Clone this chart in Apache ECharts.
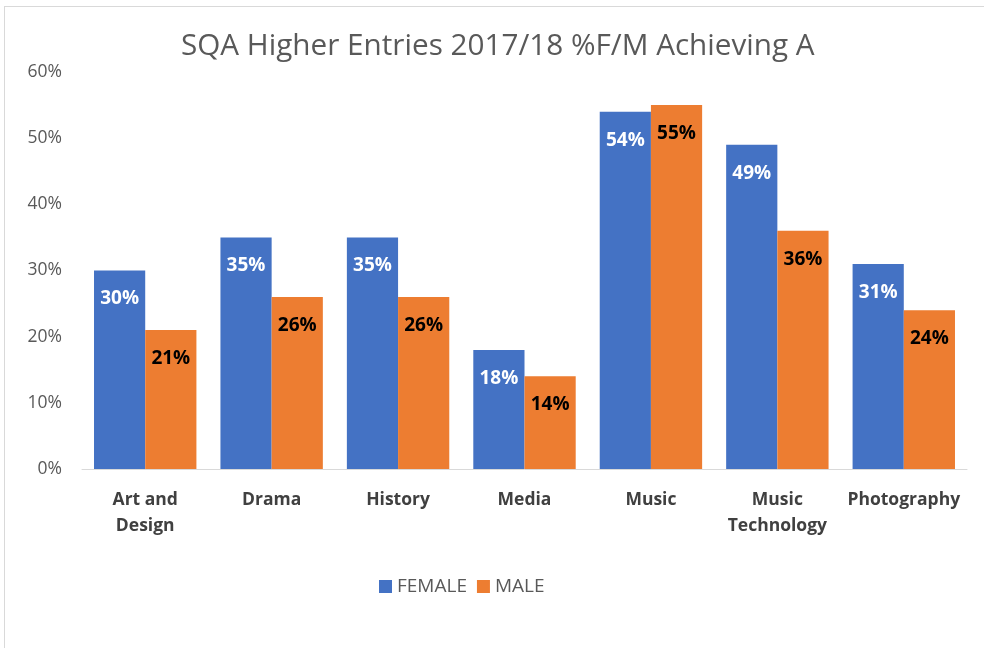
<!DOCTYPE html>
<html>
<head>
<meta charset="utf-8">
<script src="https://cdn.jsdelivr.net/npm/echarts@6/dist/echarts.min.js"></script>
<style>
  html, body { margin: 0; padding: 0; background: #fff; }
  #frame { position: absolute; left: 4px; top: 6px; width: 1000px; height: 700px; border: 1px solid #d9d9d9; box-sizing: border-box; }
  #chart { position: absolute; left: 0; top: 0; width: 984px; height: 648px; }
</style>
</head>
<body>
<div id="frame"></div>
<div id="chart"></div>
<script>
var subjects = ['Art and\nDesign', 'Drama', 'History', 'Media', 'Music', 'Music\nTechnology', 'Photography'];
var female = [30, 35, 35, 18, 54, 49, 31];
var male = [21, 26, 26, 14, 55, 36, 24];
var yTicks = [0, 10, 20, 30, 40, 50, 60];

var font = 'Open Sans';

var myChart = echarts.init(document.getElementById('chart'));

var option = {
    animation: false,
    title: {
        text: 'SQA Higher Entries 2017/18 %F/M Achieving A',
        left: 176,
        top: 27,
        textStyle: { fontFamily: font, fontSize: 29.7, fontWeight: 'normal', color: '#595959' }
    },
    legend: {
        data: ['FEMALE', 'MALE'],
        top: 572,
        left: 374,
        itemWidth: 13,
        itemHeight: 13,
        itemGap: 10,
        icon: 'rect',
        textStyle: { fontFamily: font, fontSize: 19, color: '#595959', padding: [0, 0, 0, 0] }
    },
    grid: { left: 82, right: 17, top: 72, bottom: 179, containLabel: false },
    xAxis: {
        type: 'category',
        data: subjects,
        axisTick: { show: false },
        axisLine: { lineStyle: { color: '#d9d9d9', width: 1 } },
        axisLabel: { fontFamily: font, fontSize: 17.5, fontWeight: 'bold', color: '#404040', margin: 18, lineHeight: 26, interval: 0 }
    },
    yAxis: {
        type: 'value',
        min: yTicks[0],
        max: yTicks[yTicks.length - 1],
        interval: 10,
        splitLine: { show: false },
        axisLine: { show: false },
        axisTick: { show: false },
        axisLabel: { fontFamily: font, fontSize: 17.5, color: '#595959', margin: 20, formatter: '{value}%' }
    },
    series: [{
        name: 'FEMALE',
        type: 'bar',
        data: female,
        barGap: '0%',
        barCategoryGap: '19%',
        itemStyle: { color: '#4472c4' },
        label: {
            show: true, position: 'insideTop', distance: 19, formatter: '{c}%',
            fontFamily: font, fontSize: 19, fontWeight: 'bold', color: '#ffffff'
        }
    }, {
        name: 'MALE',
        type: 'bar',
        data: male,
        itemStyle: { color: '#ed7d31' },
        label: {
            show: true, position: 'insideTop', distance: 19, formatter: '{c}%',
            fontFamily: font, fontSize: 19, fontWeight: 'bold', color: '#000000'
        }
    }]
};

myChart.setOption(option);
</script>
</body>
</html>
